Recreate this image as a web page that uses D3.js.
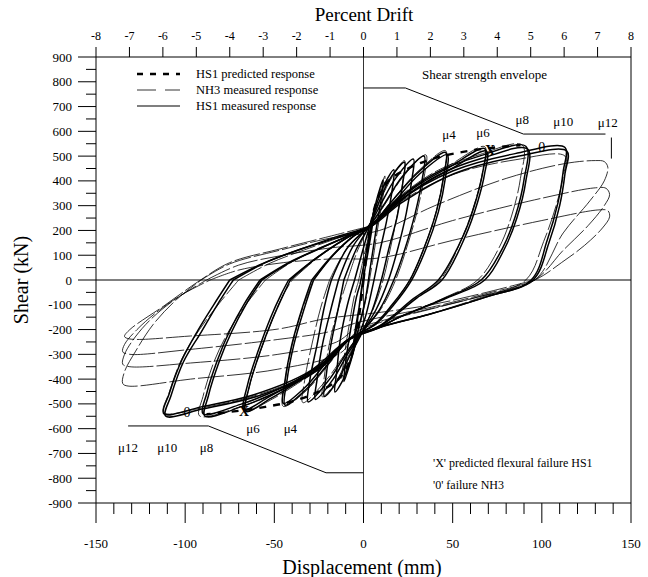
<!DOCTYPE html>
<html>
<head>
<meta charset="utf-8">
<script src="https://cdn.jsdelivr.net/npm/d3@7"></script>
<style>
  body { margin: 0; background: #fff; }
  svg text { font-family: "Liberation Serif", "Times New Roman", serif; fill: #000; }
</style>
</head>
<body>
<svg id="chart" width="648" height="577"></svg>
<script>
// ---- data: [displacement mm, shear kN] ----
const dispTicks = [-150, -100, -50, 0, 50, 100, 150];
const shearTicks = [-900, -800, -700, -600, -500, -400, -300, -200, -100, 0, 100, 200, 300, 400, 500, 600, 700, 800, 900];
const driftTicks = [-8, -7, -6, -5, -4, -3, -2, -1, 0, 1, 2, 3, 4, 5, 6, 7, 8];

const hs1Loops = [
  [[-1,-40],[2,100],[4,210],[6,290],[5,220],[2,90],[-1,-30],[-4,-200],[-6,-300],[-5,-220],[-2,-90],[-1,-40]],
  [[-2,-20],[2,130],[5,250],[8,340],[11,405],[10,330],[7,200],[4,60],[1,-80],[-3,-200],[-6,-300],[-9,-370],[-11,-410],[-10,-330],[-7,-190],[-4,-70],[-2,-20]],
  [[-5,0],[0,130],[4,230],[8,320],[12,390],[17,445],[16,360],[13,240],[9,110],[5,-30],[1,-150],[-4,-250],[-8,-340],[-12,-410],[-16,-452],[-15,-370],[-13,-240],[-9,-100],[-5,0]],
  [[-11,0],[-4,125],[4,230],[9,320],[15,410],[23,475],[22,390],[19,260],[14,120],[10,0],[5,-120],[-2,-230],[-8,-310],[-14,-400],[-22,-470],[-21,-390],[-18,-250],[-14,-110],[-11,0]],
  [[-14,0],[-6,135],[4,230],[10,310],[18,410],[28,488],[27,400],[24,270],[19,120],[14,0],[7,-120],[-3,-235],[-9,-300],[-17,-400],[-27,-482],[-26,-400],[-23,-260],[-18,-110],[-14,0]],
  [[-18,0],[-9,130],[4,225],[12,310],[22,420],[34,500],[33,410],[29,270],[23,120],[17,0],[9,-120],[-4,-238],[-10,-300],[-19,-400],[-31,-492],[-30,-400],[-26,-260],[-22,-110],[-18,0]],
  [[-28,0],[-17,100],[-5,180],[5,225],[15,310],[30,430],[46,515],[45,420],[41,280],[34,130],[26,0],[16,-100],[6,-180],[-8,-240],[-20,-340],[-32,-440],[-44,-505],[-43,-410],[-39,-260],[-33,-110],[-28,0]],
  [[-29,0],[-18,95],[-6,175],[5,222],[16,305],[31,425],[47,505],[46,415],[42,275],[35,125],[27,0],[17,-100],[7,-178],[-8,-238],[-21,-335],[-33,-435],[-45,-498],[-44,-405],[-40,-255],[-34,-105],[-29,0]],
  [[-41,0],[-28,80],[-14,150],[-3,195],[4,218],[10,262],[29,375],[48,455],[68,530],[67,440],[63,320],[56,180],[42,0],[28,-75],[9,-185],[-8,-240],[-20,-330],[-37,-412],[-52,-478],[-66,-530],[-64,-428],[-58,-290],[-51,-157],[-45,-60],[-41,0]],
  [[-42,0],[-29,75],[-15,145],[-4,190],[4,215],[11,258],[30,370],[49,448],[69,520],[68,432],[64,315],[57,175],[44,0],[30,-72],[10,-182],[-8,-238],[-21,-325],[-38,-408],[-53,-472],[-67,-522],[-65,-422],[-59,-285],[-52,-150],[-46,-55],[-42,0]],
  [[-57,0],[-40,75],[-22,135],[-8,180],[4,220],[15,300],[40,430],[65,500],[91,540],[90,404],[85,254],[78,129],[66,0],[45,-75],[20,-150],[8,-195],[-8,-240],[-25,-360],[-45,-440],[-68,-510],[-89,-549],[-87,-468],[-81,-331],[-74,-210],[-66,-100],[-57,0]],
  [[-58,0],[-42,70],[-24,130],[-9,175],[4,216],[16,295],[41,420],[66,490],[92,528],[91,398],[86,250],[79,125],[68,0],[47,-72],[21,-148],[8,-192],[-8,-238],[-26,-355],[-46,-435],[-69,-502],[-90,-540],[-88,-460],[-82,-325],[-75,-205],[-67,-98],[-58,0]],
  [[-73,0],[-55,70],[-35,125],[-15,175],[4,220],[20,320],[50,440],[85,510],[113,535],[112,440],[109,310],[103,160],[94,0],[68,-70],[36,-140],[10,-190],[-8,-240],[-30,-380],[-60,-470],[-90,-520],[-111,-549],[-108,-468],[-101,-331],[-91,-210],[-82,-100],[-73,0]],
  [[-75,0],[-57,65],[-37,120],[-16,168],[4,215],[21,310],[51,430],[86,498],[114,520],[113,430],[110,300],[104,150],[95,0],[69,-68],[37,-138],[10,-188],[-8,-238],[-31,-372],[-61,-462],[-91,-512],[-112,-540],[-109,-460],[-102,-325],[-93,-205],[-84,-100],[-75,0]]
];

const nh3Loops = [
  [[-3,-10],[1,120],[5,240],[9,350],[12,420],[11,340],[8,210],[5,70],[1,-90],[-3,-210],[-7,-310],[-10,-370],[-12,-400],[-11,-320],[-8,-180],[-5,-60],[-3,-10]],
  [[-9,0],[-3,125],[4,228],[10,330],[16,415],[23,482],[22,395],[19,265],[15,125],[11,0],[5,-125],[-3,-232],[-9,-315],[-15,-405],[-23,-472],[-22,-392],[-19,-252],[-14,-112],[-9,0]],
  [[-19,0],[-9,130],[4,222],[12,305],[22,415],[35,505],[34,415],[30,275],[24,125],[18,0],[10,-115],[-4,-236],[-11,-305],[-21,-405],[-34,-495],[-33,-405],[-29,-262],[-24,-112],[-19,0]],
  [[-28,0],[-17,100],[-4,185],[5,224],[15,312],[30,435],[46,522],[45,425],[41,282],[34,130],[26,0],[16,-102],[6,-182],[-8,-242],[-20,-345],[-32,-446],[-45,-510],[-44,-412],[-40,-262],[-34,-110],[-28,0]],
  [[-40,0],[-27,82],[-13,152],[-3,196],[4,220],[10,266],[29,380],[48,462],[68,538],[67,446],[63,325],[56,182],[43,0],[29,-76],[9,-188],[-8,-242],[-20,-334],[-37,-418],[-52,-484],[-66,-528],[-64,-430],[-58,-292],[-51,-158],[-45,-60],[-40,0]],
  [[-55,0],[-39,78],[-21,138],[-8,182],[4,222],[15,305],[40,436],[65,506],[89,545],[88,410],[83,258],[76,130],[64,0],[44,-76],[20,-152],[8,-196],[-8,-242],[-26,-362],[-46,-444],[-70,-514],[-92,-548],[-90,-470],[-84,-333],[-76,-212],[-66,-100],[-55,0]],
  [[-70,0],[-53,66],[-33,122],[-14,170],[4,218],[20,312],[50,425],[85,485],[113,500],[112,420],[108,300],[101,155],[91,0],[66,-70],[36,-140],[10,-190],[-8,-240],[-30,-375],[-60,-465],[-90,-515],[-112,-535],[-109,-455],[-102,-320],[-92,-200],[-81,-95],[-70,0]],
  [[-91,0],[-75,65],[-47,120],[-18,170],[9,200],[40,300],[80,410],[113,470],[130,482],[135,478],[137,455],[135,400],[127,320],[112,190],[96,0],[66,-65],[38,-117],[10,-170],[-5,-215],[-12,-290],[-48,-360],[-97,-400],[-132,-428],[-135,-418],[-134,-370],[-128,-290],[-118,-180],[-105,-80],[-91,0]],
  [[-88,0],[-70,60],[-45,100],[-18,130],[9,150],[50,240],[100,330],[130,372],[136,370],[138,345],[135,300],[126,220],[112,120],[96,0],[66,-65],[38,-115],[10,-165],[-5,-200],[-15,-250],[-48,-300],[-97,-335],[-131,-350],[-135,-340],[-134,-300],[-128,-230],[-118,-150],[-104,-70],[-88,0]],
  [[-86,0],[-70,40],[-45,70],[-18,85],[9,89],[50,160],[100,240],[132,283],[137,280],[138,255],[134,210],[124,140],[111,70],[96,0],[66,-60],[38,-110],[10,-150],[-5,-175],[-20,-210],[-48,-240],[-97,-280],[-131,-300],[-135,-290],[-134,-260],[-127,-200],[-116,-130],[-102,-60],[-86,0]],
  [[96,0],[66,-55],[38,-100],[10,-130],[-22,-157],[-48,-198],[-97,-226],[-131,-238],[-134,-228],[-131,-200],[-112,-105],[-93,-8],[-75,70],[-47,125],[-18,178],[4,218]]
];

const hs1Predicted = [
  [[0,0],[2,120],[4,220],[8,330],[14,400],[25,450],[40,492],[55,516],[70,532],[88,544]],
  [[0,0],[-2,-120],[-4,-220],[-8,-330],[-14,-400],[-25,-450],[-40,-490],[-55,-512],[-70,-528],[-88,-542]]
];

const envelopePos = [[0,775],[23.5,775],[89.7,589],[135.7,589]];
const envelopeNeg = [[0,-778],[-21,-778],[-87,-589],[-132,-589]];
const envelopeTick = [[139,575],[139,490]];

const muLabels = [
  {t:"μ4", d:48, v:569}, {t:"μ6", d:67, v:577}, {t:"μ8", d:89, v:630},
  {t:"μ10", d:112, v:621}, {t:"μ12", d:137, v:617},
  {t:"μ12", d:-132, v:-694}, {t:"μ10", d:-110, v:-694}, {t:"μ8", d:-88, v:-694},
  {t:"μ6", d:-62, v:-617}, {t:"μ4", d:-41, v:-617}
];
const markers = [
  {t:"X", d:71, v:505}, {t:"X", d:-67, v:-549},
  {t:"0", d:100, v:516}, {t:"0", d:-99, v:-553}
];

// ---- layout ----
const svg = d3.select("#chart");
const x = d3.scaleLinear().domain([-150, 150]).range([96, 631]);
const y = d3.scaleLinear().domain([-900, 900]).range([503, 57]);
const xDrift = d3.scaleLinear().domain([-8, 8]).range([96, 631]);

const line = d3.line().x(d => x(d[0])).y(d => y(d[1]));
const smooth = d3.line().x(d => x(d[0])).y(d => y(d[1])).curve(d3.curveCatmullRom.alpha(0.5));

// frame + zero lines
const frame = svg.append("g").attr("stroke", "#000").attr("stroke-width", 1).attr("fill", "none");
frame.append("line").attr("x1", x(-150)).attr("x2", x(150)).attr("y1", y(900)).attr("y2", y(900));
frame.append("line").attr("x1", x(-150)).attr("x2", x(150)).attr("y1", y(-900)).attr("y2", y(-900));
frame.append("line").attr("x1", x(-150)).attr("x2", x(-150)).attr("y1", y(900)).attr("y2", y(-900));
frame.append("line").attr("x1", x(150)).attr("x2", x(150)).attr("y1", y(900)).attr("y2", y(-900));
frame.append("line").attr("x1", x(-150)).attr("x2", x(150)).attr("y1", y(0)).attr("y2", y(0));
frame.append("line").attr("x1", x(0)).attr("x2", x(0)).attr("y1", y(900)).attr("y2", y(-900)).attr("stroke-width", 0.8);

// left axis ticks
const yMinor = d3.range(-850, 900, 100);
frame.selectAll(".ymaj").data(shearTicks).enter().append("line")
  .attr("x1", x(-150) - 18).attr("x2", x(-150)).attr("y1", d => y(d)).attr("y2", d => y(d));
frame.selectAll(".ymin").data(yMinor).enter().append("line")
  .attr("x1", x(-150) - 10).attr("x2", x(-150)).attr("y1", d => y(d)).attr("y2", d => y(d));
svg.append("g").selectAll("text").data(shearTicks).enter().append("text")
  .attr("x", x(-150) - 24).attr("y", d => y(d) + 4.5)
  .attr("text-anchor", "end").attr("font-size", 13).text(d => d);

// bottom axis ticks
const xMinor = d3.range(-140, 150, 10).filter(v => v % 50 !== 0);
frame.selectAll(".xmaj").data(dispTicks).enter().append("line")
  .attr("x1", d => x(d)).attr("x2", d => x(d)).attr("y1", y(-900)).attr("y2", y(-900) + 20);
frame.selectAll(".xmin").data(xMinor).enter().append("line")
  .attr("x1", d => x(d)).attr("x2", d => x(d)).attr("y1", y(-900)).attr("y2", y(-900) + 11);
svg.append("g").selectAll("text").data(dispTicks).enter().append("text")
  .attr("x", d => x(d)).attr("y", 548)
  .attr("text-anchor", "middle").attr("font-size", 13).text(d => d);

// top axis (percent drift)
frame.selectAll(".dt").data(driftTicks).enter().append("line")
  .attr("x1", d => xDrift(d)).attr("x2", d => xDrift(d)).attr("y1", y(900) - 10).attr("y2", y(900));
svg.append("g").selectAll("text").data(driftTicks).enter().append("text")
  .attr("x", d => xDrift(d)).attr("y", 40)
  .attr("text-anchor", "middle").attr("font-size", 12).text(d => d);

// axis titles
svg.append("text").attr("x", 364).attr("y", 21).attr("text-anchor", "middle").attr("font-size", 19).text("Percent Drift");
svg.append("text").attr("x", 362).attr("y", 574).attr("text-anchor", "middle").attr("font-size", 20).text("Displacement (mm)");
svg.append("text").attr("transform", "translate(28,280) rotate(-90)").attr("text-anchor", "middle").attr("font-size", 20).text("Shear (kN)");

// strength envelope
const env = svg.append("g").attr("fill", "none").attr("stroke", "#000").attr("stroke-width", 1);
[envelopePos, envelopeNeg, envelopeTick].forEach(e => env.append("path").attr("d", line(e)));

// hysteresis curves
const curves = svg.append("g").attr("fill", "none").attr("stroke", "#000").attr("stroke-linejoin", "round");
curves.selectAll(".nh3").data(nh3Loops).enter().append("path")
  .attr("d", smooth).attr("stroke-width", 0.8).attr("stroke-dasharray", "26,3");
curves.selectAll(".hs1").data(hs1Loops).enter().append("path")
  .attr("d", smooth).attr("stroke-width", 1.5);
curves.selectAll(".pred").data(hs1Predicted).enter().append("path")
  .attr("d", smooth).attr("stroke-width", 2.4).attr("stroke-dasharray", "7,7");

// annotations
svg.append("text").attr("x", 422).attr("y", 79).attr("font-size", 13).text("Shear strength envelope");
svg.append("g").selectAll("text").data(muLabels).enter().append("text")
  .attr("x", d => x(d.d)).attr("y", d => y(d.v)).attr("text-anchor", "middle")
  .attr("font-size", 13).text(d => d.t);
svg.append("g").selectAll("text").data(markers).enter().append("text")
  .attr("x", d => x(d.d)).attr("y", d => y(d.v)).attr("text-anchor", "middle")
  .attr("font-size", 14).attr("font-weight", d => d.t === "X" ? "bold" : "normal").text(d => d.t);
svg.append("text").attr("x", 433).attr("y", 467).attr("font-size", 12).text("'X' predicted flexural failure HS1");
svg.append("text").attr("x", 433).attr("y", 489).attr("font-size", 12).text("'0' failure NH3");

// legend
const legend = [
  {label: "HS1 predicted response", w: 2.6, dash: "6,7"},
  {label: "NH3 measured response", w: 0.8, dash: "19,9"},
  {label: "HS1 measured response", w: 1.2, dash: null}
];
const lg = svg.append("g");
legend.forEach((d, i) => {
  const ly = 74 + i * 16;
  lg.append("line").attr("x1", 137).attr("x2", 180).attr("y1", ly).attr("y2", ly)
    .attr("stroke", "#000").attr("stroke-width", d.w).attr("stroke-dasharray", d.dash);
  lg.append("text").attr("x", 196).attr("y", ly + 4).attr("font-size", 12.5).text(d.label);
});
</script>
</body>
</html>
